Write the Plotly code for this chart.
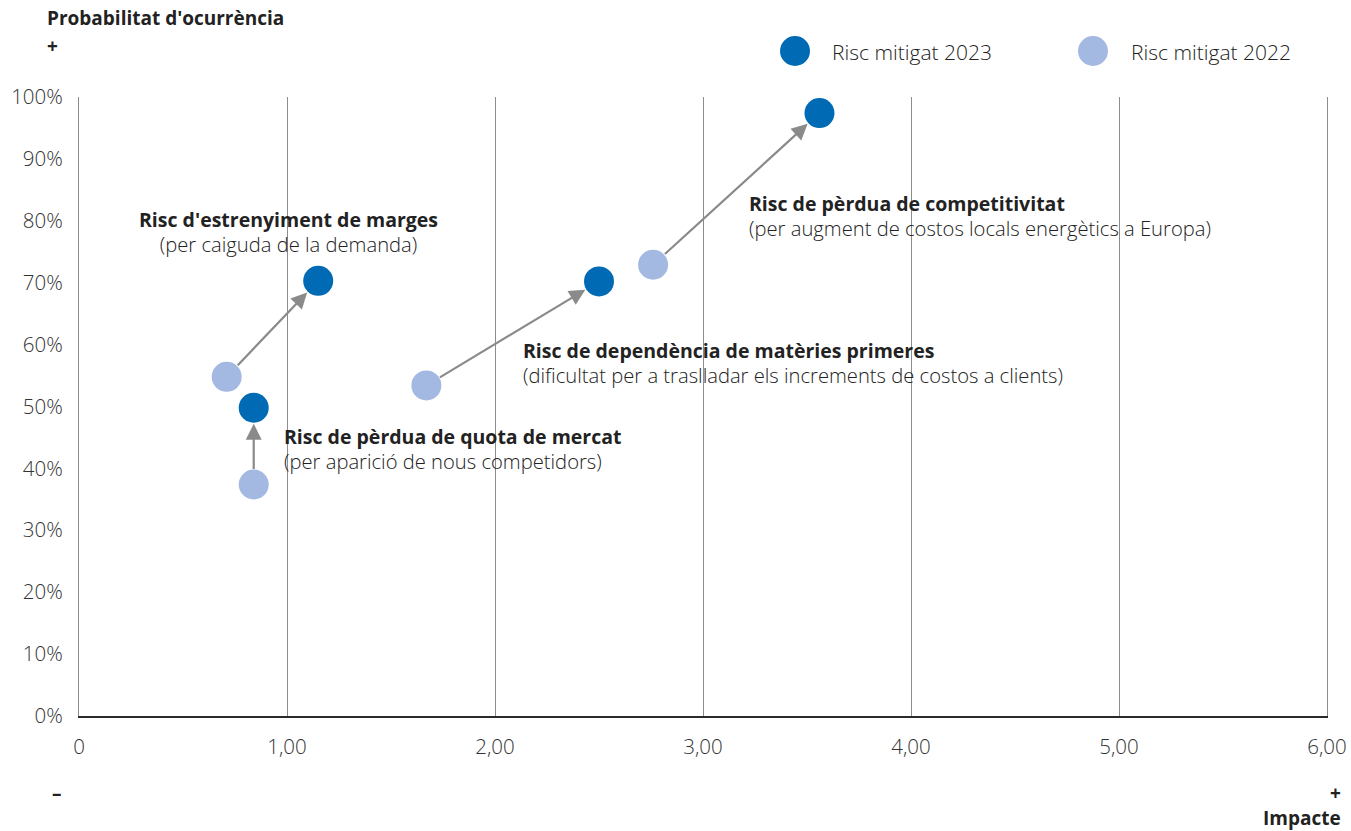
import plotly.graph_objects as go

# Risk map: impact (x) vs. probability of occurrence (y, %)
risks = [
    "Risc d'estrenyiment de marges",
    "Risc de pèrdua de quota de mercat",
    "Risc de dependència de matèries primeres",
    "Risc de pèrdua de competitivitat",
]
risk_notes = [
    "(per caiguda de la demanda)",
    "(per aparició de nous competidors)",
    "(dificultat per a traslladar els increments de costos a clients)",
    "(per augment de costos locals energètics a Europa)",
]
impact_2022 = [0.71, 0.84, 1.67, 2.76]
prob_2022 = [54.8, 37.4, 53.4, 72.9]
impact_2023 = [1.15, 0.84, 2.50, 3.56]
prob_2023 = [70.3, 49.8, 70.2, 97.4]

# label anchor per risk (x, vertical middle of the two-line block), alignment
label_x = [1.005, 0.975, 2.125, 3.21]
label_y = [78.2, 43.2, 56.95, 80.7]
label_align = ["center", "left", "left", "left"]

x_ticks = [0, 1, 2, 3, 4, 5, 6]
x_tick_text = ["0", "1,00", "2,00", "3,00", "4,00", "5,00", "6,00"]
y_ticks = list(range(0, 101, 10))
y_tick_text = [f"{v}%" for v in y_ticks]

DARK = "#006ab4"
LIGHT = "#a3b9e2"
ARROW = "#8a8a8a"
GRID = "#8c8c8c"
TEXT = "#222222"
FONT = "Open Sans"

fig = go.Figure()

# arrows from 2022 position to 2023 position
for x0, y0, x1, y1 in zip(impact_2022, prob_2022, impact_2023, prob_2023):
    fig.add_annotation(
        x=x1, y=y1, ax=x0, ay=y0, xref="x", yref="y", axref="x", ayref="y",
        showarrow=True, arrowhead=2, arrowsize=1.45, arrowwidth=2.2,
        arrowcolor=ARROW, standoff=16, startstandoff=14, text="",
    )

fig.add_trace(go.Scatter(
    x=impact_2022, y=prob_2022, mode="markers", name="Risc mitigat 2022",
    marker=dict(size=30, color=LIGHT, line=dict(width=0)), cliponaxis=False,
    showlegend=False,
))
fig.add_trace(go.Scatter(
    x=impact_2023, y=prob_2023, mode="markers", name="Risc mitigat 2023",
    marker=dict(size=30, color=DARK, line=dict(width=0)), cliponaxis=False,
    showlegend=False,
))

# risk labels: bold name with a light explanatory line below
for name, note, lx, ly, al in zip(risks, risk_notes, label_x, label_y,
                                  label_align):
    fig.add_annotation(
        x=lx, y=ly, xref="x", yref="y",
        text=f"<b>{name}</b><br><span style='font-size:20.2px'>{note}</span>",
        showarrow=False, xanchor=al, yanchor="middle", align=al,
        font=dict(family=FONT, size=19.5, color=TEXT, weight=300),
    )

W, H = 1351, 831
ML, MR, MT, MB = 79, 24, 97, 115
PW, PH = W - ML - MR, H - MT - MB


def px_to_paper(px, py):
    return (px - ML) / PW, (H - MB - py) / PH


# legend drawn in paper space
legend_items = [("Risc mitigat 2023", DARK, 795, 830),
                ("Risc mitigat 2022", LIGHT, 1093, 1129)]
for label, color, cx, tx in legend_items:
    x0, y0 = px_to_paper(cx - 15, 51 + 15)
    x1, y1 = px_to_paper(cx + 15, 51 - 15)
    fig.add_shape(type="circle", xref="paper", yref="paper",
                  x0=x0, y0=y0, x1=x1, y1=y1, fillcolor=color, line_width=0)
    axp, ayp = px_to_paper(tx, 52)
    fig.add_annotation(x=axp, y=ayp, xref="paper", yref="paper", text=label,
                       showarrow=False, xanchor="left", yanchor="middle",
                       font=dict(family=FONT, size=21, color=TEXT, weight=300))

# axis captions
captions = [
    ("<b>Probabilitat d'ocurrència</b>", 45, 18, "left"),
    ("<b>+</b>", 45, 46, "left"),
    ("<b>–</b>", 50, 793, "left"),
    ("<b>+</b>", 1343, 793, "right"),
    ("<b>Impacte</b>", 1343, 818, "right"),
]
for txt, cx, cy, xa in captions:
    axp, ayp = px_to_paper(cx, cy)
    fig.add_annotation(x=axp, y=ayp, xref="paper", yref="paper", text=txt,
                       showarrow=False, xanchor=xa, yanchor="middle",
                       font=dict(family=FONT, size=19, color=TEXT))

fig.update_xaxes(
    range=[0, 6], tickvals=x_ticks, ticktext=x_tick_text,
    showgrid=True, gridcolor=GRID, gridwidth=1.2,
    zeroline=False, showline=True, linecolor="#2b2b2b", linewidth=1.6,
    ticks="", ticklabelstandoff=12, automargin=False,
    tickfont=dict(family=FONT, size=20.5, color="#333333", weight=300),
    fixedrange=True,
)
# y-axis line mirrored gives the gray verticals at the left and right edges
fig.update_yaxes(
    range=[0, 100], tickvals=y_ticks, ticktext=y_tick_text,
    showgrid=False, zeroline=False, showline=True, mirror=True,
    linecolor=GRID, linewidth=1.2,
    ticks="", ticklabelstandoff=11, automargin=False,
    tickfont=dict(family=FONT, size=20.5, color="#333333", weight=300),
    fixedrange=True,
)

fig.update_layout(
    width=W, height=H,
    margin=dict(l=ML, r=MR, t=MT, b=MB, autoexpand=False),
    plot_bgcolor="white", paper_bgcolor="white",
    showlegend=False,
    font=dict(family=FONT, color=TEXT),
)

fig.write_html("out.html")
